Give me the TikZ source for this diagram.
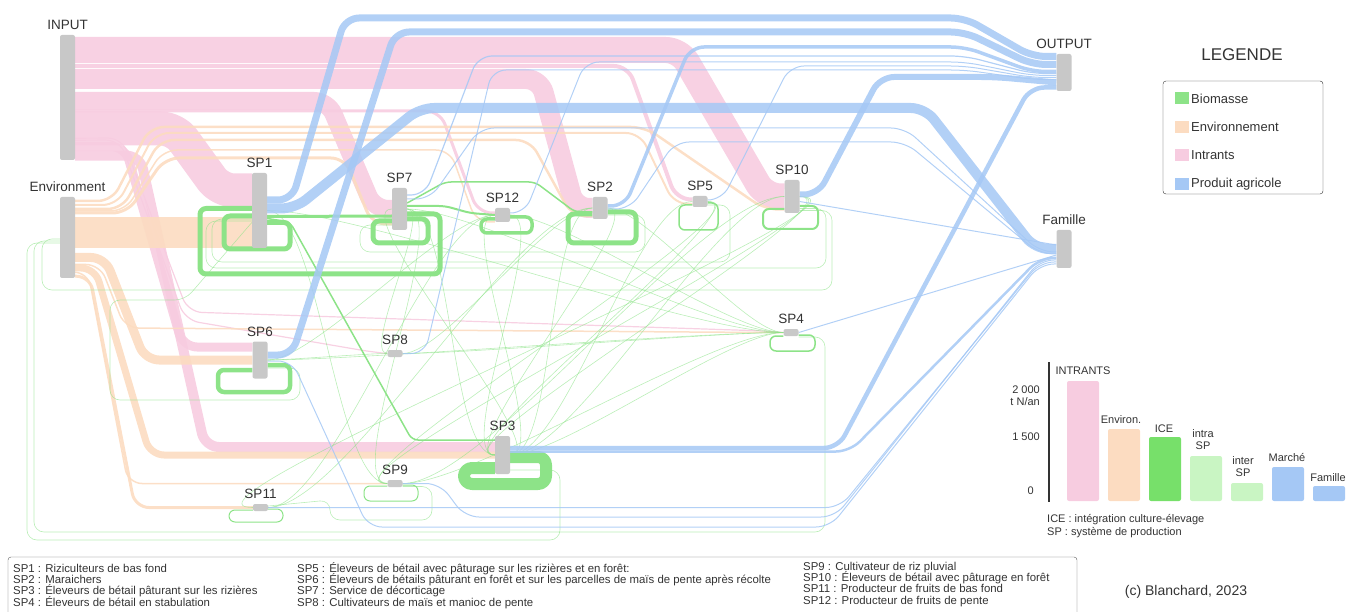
\documentclass[tikz,border=0pt]{standalone}
\usepackage{fontspec}
\setmainfont{Liberation Sans}
\usetikzlibrary{calc, positioning}

\definecolor{barGray}{HTML}{C8C8C8}
\definecolor{txtGray}{HTML}{333333}
\definecolor{pinkI}{HTML}{F7CCE0}
\definecolor{envO}{HTML}{FCDCC1}
\definecolor{bioG}{HTML}{8DE388}
\definecolor{blueP}{HTML}{A5C8F5}
\definecolor{iceG}{HTML}{77E06A}
\definecolor{lightG}{HTML}{C9F5C3}

\newcommand{\tightlines}{\lineskiplimit-100pt\relax}

\pgfdeclarelayer{flows}
\pgfsetlayers{flows,main}

\tikzset{
  bar/.style={fill=barGray, rounded corners=2pt, minimum width=15pt, inner sep=0pt, draw=none},
  nlbl/.style={font=\fontsize{13.5}{15}\selectfont, text=txtGray, inner sep=2pt},
  flow/.style={line width=#1, rounded corners=14pt, line join=round},
  intr/.style={flow=#1, draw=pinkI, opacity=.9},
  envi/.style={flow=#1, draw=envO, opacity=.9},
  bio/.style={flow=#1, draw=bioG, rounded corners=6pt},
  prod/.style={flow=#1, draw=blueP, opacity=.85},
  faint/.style={line width=.6pt, draw=bioG, opacity=.6, rounded corners=10pt},
  chartbar/.style={rounded corners=2pt, draw=none},
  small/.style={font=\fontsize{11}{12}\selectfont, text=txtGray, inner sep=0pt},
  spnames/.style={anchor=base west, align=left, inner sep=0pt, font=\fontsize{11.4}{11.2}\selectfont\tightlines}
}

\begin{document}
\begin{tikzpicture}[x=1pt, y=-1pt, text=txtGray, label distance=2.5pt]
\useasboundingbox (0,0) rectangle (1346,612);

% systems
\node[bar, minimum height=125pt, label={[nlbl]above:INPUT}] (INPUT) at (67.5,97.5) {};
\node[bar, minimum height=81pt, label={[nlbl]above:Environment}] (ENV) at (67.5,237.5) {};
\node[bar, minimum height=75pt, label={[nlbl]above:SP1}] (SP1) at (259.5,210.5) {};
\node[bar, minimum height=42pt, label={[nlbl]above:SP7}] (SP7) at (399.5,209) {};
\node[bar, minimum height=14pt, label={[nlbl]above:SP12}] (SP12) at (502.5,215) {};
\node[bar, minimum height=22pt, label={[nlbl]above:SP2}] (SP2) at (600,208) {};
\node[bar, minimum height=11pt, label={[nlbl]above:SP5}] (SP5) at (700,201.5) {};
\node[bar, minimum height=33pt, label={[nlbl]above:SP10}] (SP10) at (792,196.5) {};
\node[bar, minimum height=37pt, label={[nlbl]above:SP6}] (SP6) at (260,360) {};
\node[bar, minimum height=7pt, label={[nlbl]above:SP8}] (SP8) at (395,353.5) {};
\node[bar, minimum height=7pt, label={[nlbl]above:SP4}] (SP4) at (791,332.5) {};
\node[bar, minimum height=38pt, label={[nlbl]above:SP3}] (SP3) at (502.5,455) {};
\node[bar, minimum height=7pt, label={[nlbl]above:SP9}] (SP9) at (395,483.5) {};
\node[bar, minimum height=7pt, label={[nlbl]above:SP11}] (SP11) at (260.5,507.5) {};
\node[bar, minimum height=37pt, label={[nlbl]above:OUTPUT}] (OUTPUT) at (1064,72.5) {};
\node[bar, minimum height=38pt, label={[nlbl]above:Famille}] (FAM) at (1064,249) {};

\begin{pgfonlayer}{flows}
% intrants
\draw[intr=26pt] ($(INPUT.north east)+(0,15)$) -- (680,50) -- (765,196) -- (SP10.west);
\draw[intr=20pt] ($(INPUT.north east)+(0,44)$) -- (540,79) -- (575,208) -- (SP2.west);
\draw[intr=18pt] ($(INPUT.north east)+(0,66)$) -- (328,101) -- (374,209) -- (SP7.west);
\draw[intr=34pt] ($(INPUT.east)+(0,31)$) -- (175,128.5) -- (220,190.5) -- ($(SP1.west)+(0,-20)$);
\draw[intr=9pt] ($(INPUT.south east)+(0,-13.5)$) -- (125,146.5) -- (183,347) -- ($(SP6.west)+(0,-13)$);
\draw[intr=10pt] ($(INPUT.south east)+(0,-4.5)$) -- (140,155.5) -- (205,447) -- ($(SP3.west)+(0,-8)$);
\draw[intr=4pt] ($(INPUT.north east)+(0,31)$) -- (628,66) -- (676,199) -- ($(SP5.west)+(0,-2)$);
\draw[intr=3pt] ($(INPUT.north east)+(0,76)$) -- (440,111) -- (478,213) -- ($(SP12.west)+(0,-2)$);
\draw[intr=1.2pt] ($(INPUT.south east)+(0,-20)$) -- (120,140) -- (185,320) -- (372,352) -- (SP8.west);
\draw[intr=1.2pt] ($(INPUT.south east)+(0,-22)$) -- (122,138) -- (188,312) -- (765,331) -- (SP4.west);

% environnement
\draw[envi=31pt] ($(ENV.east)+(0,-5)$) -- ($(SP1.west)+(0,22)$);
\draw[envi=9pt] ($(ENV.east)+(0,20)$) -- (105,257.5) -- (145,360) -- (SP6.west);
\draw[envi=7pt] ($(ENV.east)+(0,30.5)$) -- (95,268) -- (150,455) -- (SP3.west);
\draw[envi=3pt] ($(ENV.south east)+(0,-2)$) -- (90,276) -- (135,507.5) -- (SP11.west);
\draw[envi=1.5pt] ($(ENV.south east)+(0,-6)$) -- (88,272) -- (128,483.5) -- (SP9.west);
\draw[envi=2.5pt] ($(ENV.north east)+(0,4)$) -- (112,201) -- (150,127) -- (645,127) -- (765,209.5) -- ($(SP10.west)+(0,13)$);
\draw[envi=2pt] ($(ENV.north east)+(0,8)$) -- (117,205) -- (155,133) -- (640,133) -- (674,204) -- ($(SP5.west)+(0,2.5)$);
\draw[envi=2.5pt] ($(ENV.north east)+(0,12)$) -- (122,209) -- (160,140) -- (530,140) -- (572,216) -- ($(SP2.west)+(0,8)$);
\draw[envi=1.5pt] ($(ENV.north east)+(0,14)$) -- (125,211) -- (163,150) -- (450,150) -- (476,222) -- ($(SP12.west)+(0,7)$);
\draw[envi=3pt] ($(ENV.north east)+(0,16)$) -- (127,213) -- (165,158) -- (345,158) -- (372,224) -- ($(SP7.west)+(0,15)$);
\draw[envi=1.5pt] ($(ENV.east)+(0,27)$) -- (100,264.5) -- (125,328) -- (760,332.5) -- (SP4.west);

% biomasse
\draw[bio=5pt] ($(SP1.east)+(0,12)$) -- (290,222.5) -- (290,249) -- (224,249) -- (224,216) -- ($(SP1.west)+(0,5.5)$);
\draw[bio=5pt] ($(SP7.east)+(0,5)$) -- (440,214) -- (440,274) -- (200,274) -- (200,208.5) -- ($(SP1.west)+(0,-2)$);
\draw[bio=3pt] ($(SP1.east)+(0,6)$) -- ($(SP7.west)+(0,7)$);
\draw[bio=5pt] ($(SP7.east)+(0,10)$) -- (428,219) -- (428,243) -- (373,243) -- (373,221) -- ($(SP7.west)+(0,12)$);
\draw[bio=2pt] ($(SP7.east)+(0,-3)$) -- (445,206) -- (470,213) -- (SP12.west);
\draw[bio=1.5pt] ($(SP7.east)+(0,-6)$) -- (445,182) -- (535,182) -- (575,212) -- ($(SP2.west)+(0,4)$);
\draw[bio=3.5pt] ($(SP12.east)+(0,2)$) -- (532,217) -- (532,233) -- (481,233) -- (481,219) -- ($(SP12.west)+(0,4)$);
\draw[bio=5pt] ($(SP2.east)+(0,4)$) -- (636,212) -- (636,243) -- (568,243) -- (568,214) -- ($(SP2.west)+(0,6)$);
\draw[bio=1.5pt] ($(SP5.east)+(0,1.5)$) -- (718,203) -- (718,230) -- (679,230) -- (679,205) -- ($(SP5.west)+(0,3.5)$);
\draw[bio=2pt] ($(SP10.east)+(0,9.5)$) -- (818,206) -- (818,229) -- (763,229) -- (763,209) -- ($(SP10.west)+(0,12.5)$);
\draw[bio=4.5pt] ($(SP6.east)+(0,5)$) -- (290,365) -- (290,392) -- (218,392) -- (218,370) -- ($(SP6.west)+(0,10)$);
\draw[bio=12pt, rounded corners=8pt] ($(SP3.east)+(0,2)$) -- (546,457) -- (546,484) -- (464,484) -- (464,468) -- ($(SP3.west)+(0,13)$);
\draw[bio=1.5pt] ($(SP4.east)+(0,2.5)$) -- (815,335) -- (815,351) -- (770,351) -- (770,336) -- ($(SP4.west)+(0,3.5)$);
\draw[bio=1pt] ($(SP9.east)+(0,1.5)$) -- (418,485) -- (418,501) -- (364,501) -- (364,486) -- ($(SP9.west)+(0,2.5)$);
\draw[bio=1pt] ($(SP11.east)+(0,1.5)$) -- (283,509) -- (283,522) -- (229,522) -- (229,510) -- ($(SP11.west)+(0,2.5)$);
\draw[bio=1.5pt] ($(SP1.east)+(0,8)$) -- (290,222) -- (412,440) -- ($(SP3.west)+(0,-15)$);
\draw[faint] ($(SP10.east)+(0,14)$) -- (832,210.5) -- (832,290) -- (42,290) -- (42,239) -- ($(ENV.west)+(0,1.5)$);
\draw[faint] ($(SP4.east)+(0,4.5)$) -- (825,337) -- (825,532) -- (34,532) -- (34,241) -- ($(ENV.west)+(0,3.5)$);
\draw[faint] ($(SP3.east)+(0,15)$) -- (560,470) -- (560,540) -- (27,540) -- (27,243) -- ($(ENV.west)+(0,5.5)$);
\draw[faint] ($(SP2.east)+(0,7)$) -- (645,215) -- (645,252) -- (360,252) -- (360,225) -- ($(SP7.west)+(0,16)$);
\draw[faint] ($(SP5.east)+(0,3.5)$) -- (730,205) -- (730,262) -- (212,262) -- (212,219) -- ($(SP1.west)+(0,8.5)$);
\draw[faint] ($(SP10.east)+(0,12)$) -- (826,208.5) -- (826,268) -- (206,268) -- (206,221) -- ($(SP1.west)+(0,10.5)$);
\draw[faint] ($(SP6.east)+(0,8)$) -- (300,368) -- (300,400) -- (110,400) -- (110,300) -- (185,300) -- ($(SP1.west)+(0,12)$);
\draw[faint] ($(SP9.east)+(0,3)$) -- (432,486.5) -- (432,520) -- (330,520) -- (330,500) -- (SP11.west);
\foreach \a/\b in {SP7/SP3, SP7/SP4, SP1/SP4, SP12/SP4, SP2/SP3, SP5/SP3, SP10/SP3, SP5/SP9,
  SP10/SP9, SP6/SP8, SP7/SP8, SP8/SP4, SP6/SP4, SP1/SP9, SP7/SP9, SP12/SP3, SP2/SP4, SP3/SP4,
  SP9/SP4, SP11/SP12, SP3/SP5, SP3/SP12, SP6/SP12, SP11/SP2, SP9/SP10, SP8/SP2, SP3/SP10, SP10/SP11,
  SP3/SP2, SP3/SP7}
  \draw[faint] (\a.east) to[out=0, in=180, looseness=.45] (\b.west);

% produit agricole
\draw[prod=7pt] ($(SP1.east)+(0,-10.5)$) -- (292,200) -- (345,18) -- (965,18) -- (1032,56.5) -- ($(OUTPUT.west)+(0,-16)$);
\draw[prod=10pt] ($(SP1.east)+(0,-2)$) -- (295,208.5) -- (420,108) -- (925,108) -- (1035,249) -- (FAM.west);
\draw[prod=7pt] ($(SP6.east)+(0,-5)$) -- (292,355) -- (395,32) -- (965,32) -- (1032,64.5) -- ($(OUTPUT.west)+(0,-8)$);
\draw[prod=6pt] ($(SP10.east)+(0,-2)$) -- (818,194.5) -- (880,77) -- (995,77) -- ($(OUTPUT.west)+(0,10)$);
\draw[prod=3.5pt] ($(SP2.east)+(0,-2)$) -- (625,206) -- (690,47) -- (965,47) -- (1032,71.5) -- ($(OUTPUT.west)+(0,-1)$);
\draw[prod=4.5pt] ($(SP3.east)+(0,-7)$) -- (838,448) -- (1030,87.5) -- ($(OUTPUT.west)+(0,15)$);
\draw[prod=2.5pt] ($(SP3.east)+(0,-3.5)$) -- (850,451.5) -- (1040,258) -- ($(FAM.west)+(0,9)$);
\draw[prod=1.2pt] ($(SP7.east)+(0,-14)$) -- (425,195) -- (478,56) -- (965,56) -- (1032,73.5) -- ($(OUTPUT.west)+(0,1)$);
\draw[prod=1pt] ($(SP12.east)+(0,-2)$) -- (525,213) -- (585,62) -- (965,62) -- (1032,75.5) -- ($(OUTPUT.west)+(0,3)$);
\draw[prod=1pt] ($(SP5.east)+(0,-1.5)$) -- (722,200) -- (790,66) -- (965,66) -- (1032,77.5) -- ($(OUTPUT.west)+(0,5)$);
\draw[prod=1pt] (SP8.east) -- (425,353.5) -- (492,70) -- (965,70) -- (1032,79.5) -- ($(OUTPUT.west)+(0,7)$);
\draw[prod=1pt] ($(SP6.east)+(0,1)$) -- (292,361) -- (368,527) -- (830,527) -- (1040,264) -- ($(FAM.west)+(0,15)$);
\draw[prod=1pt] (SP11.east) -- (840,507.5) -- (1040,262) -- ($(FAM.west)+(0,13)$);
\draw[prod=1pt] (SP9.east) -- (440,483.5) -- (465,517) -- (835,517) -- (1040,260) -- ($(FAM.west)+(0,11)$);
\draw[prod=1pt] (SP4.east) -- ($(FAM.west)+(0,6)$);
\draw[prod=1pt] ($(SP7.east)+(0,-10)$) -- (430,199) -- (480,128) -- (905,128) -- (1040,252) -- ($(FAM.west)+(0,3)$);
\draw[prod=1pt] ($(SP2.east)+(0,1)$) -- (630,209) -- (675,142) -- (905,142) -- (1040,254) -- ($(FAM.west)+(0,5)$);
\draw[prod=1pt] ($(SP10.east)+(0,5)$) -- ($(FAM.west)+(0,-4)$);
\end{pgfonlayer}

% legende
\node[font=\fontsize{17}{19}\selectfont] (legtitle) at (1242,55) {LEGENDE};
\node[draw=txtGray, rounded corners=3pt, minimum width=160pt, minimum height=113pt] (legbox) at (1243,137.5) {};
\foreach \c/\t [count=\i] in {bioG/Biomasse, envO/Environnement, pinkI/Intrants, blueP/Produit agricole}{
  \fill[\c] (1175,98.5+28.5*\i-28.5-6) rectangle (1189,98.5+28.5*\i-28.5+6);
  \node[anchor=west, font=\fontsize{13}{15}\selectfont, inner sep=0pt] (leg\i) at (1191,98.5+28.5*\i-28.5) {\t};
}

% chart
\draw[line width=1.3pt, txtGray] (1049,362) -- (1049,502);
\fill[chartbar, pinkI] (1067,381) rectangle (1099,501);
\fill[chartbar, envO] (1108,429) rectangle (1140,501);
\fill[chartbar, iceG] (1149,437) rectangle (1181,501);
\fill[chartbar, lightG] (1190,456) rectangle (1222,501);
\fill[chartbar, lightG] (1231,483) rectangle (1263,501);
\fill[chartbar, blueP] (1272,467) rectangle (1304,501);
\fill[chartbar, blueP] (1313,486) rectangle (1345,501);
\node[small] (cI) at (1083,371) {INTRANTS};
\node[small] (cE) at (1121,420) {Environ.};
\node[small] (cC) at (1164,429) {ICE};
\node[small, align=center] (cA) at (1203,440) {intra\\SP};
\node[small, align=center] (cB) at (1243,467) {inter\\SP};
\node[small] (cM) at (1287,458) {Marché};
\node[small] (cF) at (1328,478) {Famille};
\node[small, anchor=east, align=right] (y2) at (1040,396) {2 000\\t N/an};
\node[small, anchor=east] (y1) at (1040,437) {1 500};
\node[small, anchor=east] (y0) at (1034,491) {0};
\node[small, anchor=west] (ice) at (1047,520) {ICE : intégration culture-élevage};
\node[small, anchor=west] (spx) at (1047,533) {SP : système de production};

% noms des systemes
\draw[draw=txtGray!80, rounded corners=3pt] (8,557) rectangle (1077,640);
\node[spnames] (colA) at (13,606)
  {SP1 : Riziculteurs de bas fond\\SP2 : Maraichers\\SP3 : Éleveurs de bétail pâturant sur les rizières\\SP4 : Éleveurs de bétail en stabulation};
\node[spnames] (colB) at (297,606)
  {SP5 : Éleveurs de bétail avec pâturage sur les rizières et en forêt:\\SP6 : Éleveurs de bétails pâturant en forêt et sur les parcelles de maïs de pente après récolte\\SP7 : Service de décorticage\\SP8 : Cultivateurs de maïs et manioc de pente};
\node[spnames] (colC) at (803,604)
  {SP9 : Cultivateur de riz pluvial\\SP10 : Éleveurs de bétail avec pâturage en forêt\\SP11 : Producteur de fruits de bas fond\\SP12 : Producteur de fruits de pente};
\node[font=\fontsize{14}{16}\selectfont] (copy) at (1186,592) {(c) Blanchard, 2023};
\end{tikzpicture}
\end{document}
